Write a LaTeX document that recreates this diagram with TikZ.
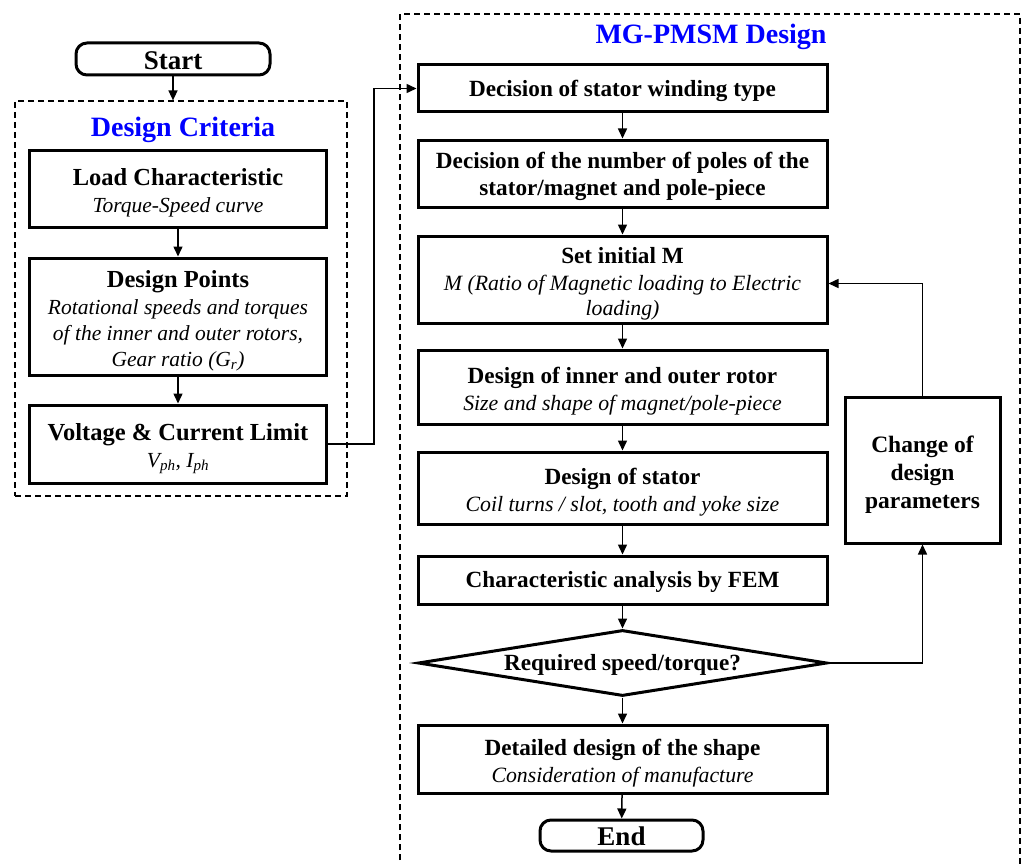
\documentclass[tikz,border=0pt]{standalone}
\usepackage{fontspec}
\setmainfont{Liberation Serif}
\usetikzlibrary{arrows.meta,shapes.geometric}
\definecolor{ttlblue}{RGB}{0,0,255}
\newcommand\bfL{\fontsize{24.5}{27}\selectfont\bfseries}
\newcommand\bfR{\fontsize{23.2}{27}\selectfont\bfseries}
\newcommand\itL{\fontsize{21.5}{26}\selectfont\itshape}
\newcommand\itR{\fontsize{21.8}{26}\selectfont\itshape}
\tikzset{
  box/.style={draw, line width=3pt, minimum width=297pt, inner sep=0pt},
  rbox/.style={box, minimum width=409pt},
  tx/.style={align=center, inner sep=0pt, font=\fontsize{21.5}{26}\selectfont},
  term/.style={draw, line width=3pt, rounded corners=11pt, inner sep=0pt},
  termtx/.style={inner sep=0pt, font=\fontsize{27}{30}\selectfont\bfseries},
  arr/.style={-{Triangle[length=10pt,width=9pt]}, line width=1.5pt},
  dbox/.style={draw, dashed, dash pattern=on 6pt off 4pt, line width=1.2pt, inner sep=0pt},
  ttl/.style={text=ttlblue, font=\fontsize{28}{30}\selectfont\bfseries}
}
\begin{document}
\begin{tikzpicture}[x=1pt,y=-1pt]
\useasboundingbox (0,0) rectangle (1030,864);
% left column
\node[term, minimum width=194pt, minimum height=32pt] (start) at (173,59) {};
\node[termtx] (startt) at ([yshift=-2pt]start.center) {Start};
\node[dbox, minimum width=332pt, minimum height=395pt] (dcbox) at (181,298.5) {};
\node[ttl] (t1) at (183,130) {Design Criteria};
\node[box, minimum height=77pt] (load) at (178,188.5) {};
\node[tx] (loadt) at ([yshift=-4.5pt]load.center) {{\bfL Load Characteristic}\\[1pt]{\itL Torque-Speed curve}};
\node[box, minimum height=117pt] (dp) at (178,316.5) {};
\node[tx] (dpt) at ([yshift=-4.5pt]dp.center) {{\bfL Design Points}\\[1pt]{\itL Rotational speeds and torques}\\{\itL of the inner and outer rotors,}\\{\itL Gear ratio (G\textsubscript{r})}};
\node[box, minimum height=78pt] (vc) at (178,444) {};
\node[tx] (vct) at ([yshift=-4.5pt]vc.center) {{\bfL Voltage \& Current Limit}\\[1pt]{\itL V\textsubscript{ph}, I\textsubscript{ph}}};
% right column
\draw[dashed, dash pattern=on 6pt off 4pt, line width=1.2pt] (400,870) -- (400,14) -- (1020,14) -- (1020,870);
\node[ttl] (t2) at (711,37) {MG-PMSM Design};
\node[rbox, minimum height=47pt] (n1) at (622.5,88.5) {};
\node[tx] (n1t) at ([yshift=-2.5pt]n1.center) {\bfR Decision of stator winding type};
\node[rbox, minimum height=67pt] (n2) at (622.5,173.5) {};
\node[tx] (n2t) at ([yshift=-3pt]n2.center) {{\bfR Decision of the number of poles of the}\\[1pt]{\bfR stator/magnet and pole-piece}};
\node[rbox, minimum height=87pt] (n3) at (622.5,279.5) {};
\node[tx] (n3t) at ([yshift=-4.5pt]n3.center) {{\bfR Set initial M}\\[1pt]{\itR M (Ratio of Magnetic loading to Electric}\\[-1pt]{\itR loading)}};
\node[rbox, minimum height=74pt] (n4) at (622.5,387) {};
\node[tx] (n4t) at ([yshift=-4.5pt]n4.center) {{\bfR Design of inner and outer rotor}\\[1pt]{\itR Size and shape of magnet/pole-piece}};
\node[rbox, minimum height=72pt] (n5) at (622.5,488) {};
\node[tx] (n5t) at ([yshift=-4pt]n5.center) {{\bfR Design of stator}\\[1pt]{\itR Coil turns / slot, tooth and yoke size}};
\node[rbox, minimum height=48pt] (n6) at (622.5,580) {};
\node[tx] (n6t) at ([yshift=-1.5pt]n6.center) {\bfR Characteristic analysis by FEM};
\node[draw, diamond, aspect=6.2, line width=3pt, inner sep=0pt, minimum width=409pt, minimum height=66pt] (dia) at (622.5,663) {};
\node[tx] (diat) at ([yshift=-2pt]dia.center) {\bfR Required speed/torque?};
\node[rbox, minimum height=68pt] (n7) at (622.5,759) {};
\node[tx] (n7t) at ([yshift=-4pt]n7.center) {{\bfR Detailed design of the shape}\\[1pt]{\itR Consideration of manufacture}};
\node[term, minimum width=163pt, minimum height=31pt] (end) at (621.5,835.5) {};
\node[termtx] (endt) at ([yshift=-1pt]end.center) {End};
\node[box, minimum width=155pt, minimum height=146pt] (chg) at (922.5,470) {};
\node[tx, font=\fontsize{23.5}{28}\selectfont\bfseries] (chgt) at ([yshift=-4.5pt]chg.center) {Change of\\design\\parameters};
% connectors
\draw[arr] (start.south) -- (start.south |- dcbox.north);
\draw[arr] (load) -- (dp);
\draw[arr] (dp) -- (vc);
\draw[arr] (vc.east) -- ++(46,0) |- (n1.west);
\draw[arr] (n1) -- (n2);
\draw[arr] (n2) -- (n3);
\draw[arr] (n3) -- (n4);
\draw[arr] (n4) -- (n5);
\draw[arr] (n5) -- (n6);
\draw[arr] (n6) -- (dia);
\draw[arr] (dia) -- (n7);
\draw[arr] (n7) -- (end);
\draw[arr] (dia.east) -| (chg.south);
\draw[arr] (chg.north) |- ([yshift=-4pt]n3.east);
\end{tikzpicture}
\end{document}
